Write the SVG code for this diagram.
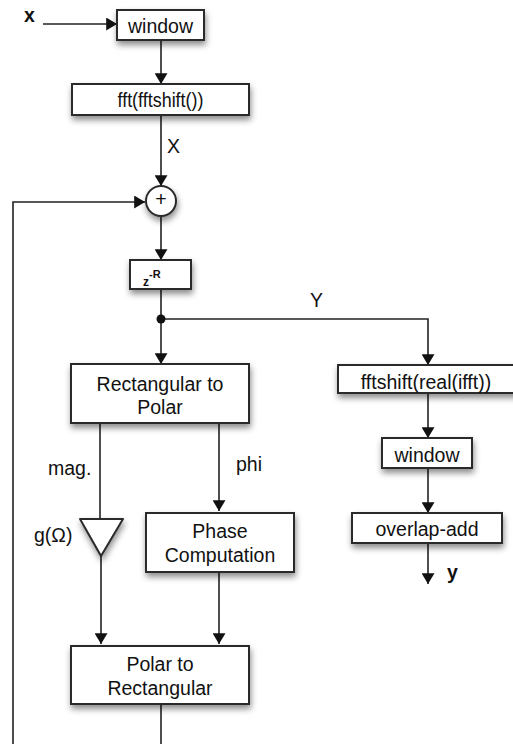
<svg xmlns="http://www.w3.org/2000/svg" width="513" height="744" viewBox="0 0 513 744">
<style>
.box{fill:#fff;stroke:#2a2a2a;stroke-width:2;filter:url(#sh)}
.t{font-family:"Liberation Sans",Arial,sans-serif;font-size:19.5px;fill:#111;text-anchor:middle}
.l{font-family:"Liberation Sans",Arial,sans-serif;font-size:19.5px;fill:#111}
.c{fill:none;stroke:#222;stroke-width:1.6}
.a{marker-end:url(#ah)}
</style>
<defs>
<filter id="sh" x="-20%" y="-30%" width="150%" height="180%">
<feDropShadow dx="1" dy="4" stdDeviation="3" flood-color="#000" flood-opacity="0.45"/>
</filter>
<marker id="ah" viewBox="0 0 10 12" refX="10" refY="6" markerWidth="11" markerHeight="13" markerUnits="userSpaceOnUse" orient="auto">
<path d="M0,0 L10,6 L0,12 Z" fill="#111"/>
</marker>
</defs>
<g id="connectors">
<line class="c a" x1="43" y1="24" x2="117" y2="24"/>
<line class="c a" x1="161" y1="41" x2="161" y2="84"/>
<line class="c a" x1="161" y1="116" x2="161" y2="186"/>
<polyline class="c a" points="13,744 13,202 145,202"/>
<line class="c a" x1="161" y1="216" x2="161" y2="260"/>
<line class="c" x1="161" y1="290" x2="161" y2="319"/>
<line class="c a" x1="161" y1="319" x2="161" y2="364"/>
<polyline class="c a" points="161,319 428,319 428,365"/>
<circle cx="161" cy="319" r="4.5" fill="#111"/>
<line class="c a" x1="428" y1="394" x2="428" y2="438"/>
<line class="c a" x1="428" y1="469" x2="428" y2="513"/>
<line class="c a" x1="428" y1="544" x2="428" y2="584"/>
<line class="c" x1="100" y1="424" x2="100" y2="519"/>
<line class="c a" x1="101" y1="556" x2="101" y2="644"/>
<line class="c a" x1="219" y1="424" x2="219" y2="511"/>
<line class="c a" x1="219" y1="573" x2="219" y2="644"/>
<line class="c" x1="161" y1="705" x2="161" y2="744"/>
</g>
<g id="labels">
<text class="l" x="24" y="22" font-weight="bold" font-size="17">x</text>
<text class="l" x="167" y="153">X</text>
<text class="l" x="310" y="307">Y</text>
<text class="l" x="48" y="475">mag.</text>
<text class="l" x="236" y="471">phi</text>
<text class="l" x="34" y="542">g(Ω)</text>
<text class="l" x="447" y="579" font-weight="bold" font-size="18">y</text>
</g>
<g id="window1">
<rect class="box" x="117" y="10" width="87" height="30"/>
<text class="t" x="160.5" y="33">window</text>
</g>
<g id="fft">
<rect class="box" x="72" y="84" width="177" height="31"/>
<text class="t" x="160.5" y="107" textLength="86" lengthAdjust="spacingAndGlyphs">fft(fftshift())</text>
</g>
<g id="sum">
<circle cx="161" cy="201" r="15" fill="#fff" stroke="#2a2a2a" stroke-width="2" filter="url(#sh)"/>
<text class="t" x="161" y="206" font-size="14">+</text>
</g>
<g id="delay">
<rect class="box" x="130" y="260" width="61" height="29"/>
<text x="143" y="286" font-family="Liberation Sans,Arial,sans-serif" font-weight="bold" font-size="12" fill="#111">z<tspan dy="-8" font-size="11">-R</tspan></text>
</g>
<g id="rect2polar">
<rect class="box" x="71" y="364" width="178" height="59"/>
<text class="t" x="160" y="391">Rectangular to</text>
<text class="t" x="160" y="414">Polar</text>
</g>
<g id="ifft">
<rect class="box" x="338" y="365" width="185" height="28"/>
<text class="t" x="426" y="389">fftshift(real(ifft))</text>
</g>
<g id="window2">
<rect class="box" x="382" y="438" width="90" height="30"/>
<text class="t" x="427" y="462">window</text>
</g>
<g id="overlapadd">
<rect class="box" x="352" y="513" width="150" height="30"/>
<text class="t" x="427" y="536">overlap-add</text>
</g>
<g id="gain">
<polygon points="80,519 123,519 101,556" fill="#fff" stroke="#2a2a2a" stroke-width="2" stroke-linejoin="round" filter="url(#sh)"/>
</g>
<g id="phase">
<rect class="box" x="146" y="513" width="148" height="59"/>
<text class="t" x="220" y="538">Phase</text>
<text class="t" x="220" y="562">Computation</text>
</g>
<g id="polar2rect">
<rect class="box" x="71" y="646" width="178" height="58"/>
<text class="t" x="160" y="671">Polar to</text>
<text class="t" x="160" y="695">Rectangular</text>
</g>
</svg>
